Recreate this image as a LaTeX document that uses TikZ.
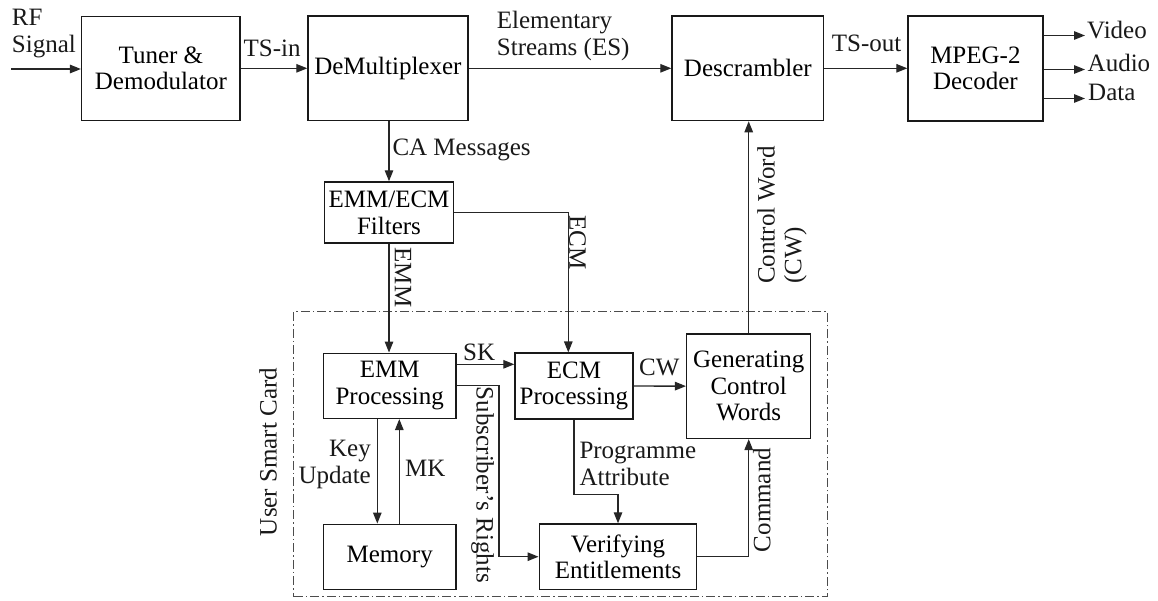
\documentclass[tikz,border=0pt]{standalone}
\usepackage{fontspec}
\setmainfont{Liberation Serif}
\usetikzlibrary{arrows.meta}
\begin{document}
\begin{tikzpicture}[x=1pt,y=-1pt,
  font=\fontsize{25}{26.7}\selectfont,
  blk/.style={draw=black!90, line width=1.5pt, align=center, inner sep=0pt},
  conn/.style={draw=black!85, line width=1.3pt},
  arr/.style={conn, -{Triangle[length=11pt,width=8.5pt]}},
  lbl/.style={inner sep=0pt, text=black!90},
  cardbox/.style={draw=black!70, line width=1.2pt,
    dash pattern=on 9pt off 3pt on 1.5pt off 3pt},
]
\useasboundingbox (0,0) rectangle (1158,600);

% --- receiver chain ---
\node[blk, minimum width=158.5pt, minimum height=104pt] (tuner) at (160.9,68.3) {Tuner \&\\Demodulator};
\node[blk, minimum width=159.7pt, minimum height=104.5pt] (demux) at (387.9,68.3) {DeMultiplexer};
\node[blk, minimum width=151.5pt, minimum height=104.5pt] (desc) at (747.8,68.3) {Descrambler};
\node[blk, minimum width=134.7pt, minimum height=105pt] (mpeg) at (975.4,68.3) {MPEG-2\\Decoder};
\node[blk, minimum width=129pt, minimum height=61pt] (filters) at (389,212.5) {EMM/ECM\\Filters};

% --- smart card ---
\node[cardbox, minimum width=533.7pt, minimum height=285pt, inner sep=0pt] (card) at (560.6,454.2) {};
\node[blk, minimum width=132.7pt, minimum height=65pt] (emmp) at (389.7,385.8) {EMM\\Processing};
\node[blk, minimum width=117.7pt, minimum height=65.7pt] (ecmp) at (573.9,386) {ECM\\Processing};
\node[blk, minimum width=124pt, minimum height=104.3pt] (gen) at (748.7,386.2) {Generating\\Control\\Words};
\node[blk, minimum width=132.7pt, minimum height=65pt] (mem) at (389.7,556.8) {Memory};
\node[blk, minimum width=157.4pt, minimum height=65.3pt] (ver) at (618,556.7) {Verifying\\Entitlements};

% --- labels (base anchor of a two-line label sits on its last line) ---
\node[lbl, align=left, anchor=base west] (rf) at (11.7,52) {RF\\Signal};
\node[lbl, anchor=base west] (tsin) at (243.5,56.5) {TS-in};
\node[lbl, align=left, anchor=base west] (es) at (496.7,55) {Elementary\\Streams (ES)};
\node[lbl, anchor=base west] (tsout) at (831.7,51.7) {TS-out};
\node[lbl, anchor=base west] (video) at (1087,38.3) {Video};
\node[lbl, anchor=base west] (audio) at (1087.5,71.7) {Audio};
\node[lbl, anchor=base west] (data) at (1088,100) {Data};
\node[lbl, anchor=base west] (camsg) at (392.3,155) {CA Messages};
\node[lbl, rotate=-90] (emmlbl) at (403,277.5) {EMM};
\node[lbl, rotate=-90] (ecmlbl) at (577.5,242.5) {ECM};
\node[lbl, rotate=90, align=left, anchor=north west] (cwlbl) at (757,284) {Control Word\\(CW)};
\node[lbl, rotate=90] (cardlbl) at (268,452) {User Smart Card};
\node[lbl, anchor=base west] (sk) at (463,360) {SK};
\node[lbl, anchor=base west] (cw) at (639,375) {CW};
\node[lbl, rotate=-90] (subs) at (482.5,485) {Subscriber's Rights};
\node[lbl, align=right, anchor=base east] (keyup) at (371,483.3) {Key\\Update};
\node[lbl, anchor=base west] (mk) at (405,476.7) {MK};
\node[lbl, align=left, anchor=base west] (prog) at (579.3,485) {Programme\\Attribute};
\node[lbl, rotate=90] (cmd) at (761.7,500) {Command};

% --- free ends of the output and input lines ---
\coordinate (rfin) at (11,69);
\coordinate (vidtip) at (1085,35.5);
\coordinate (audtip) at (1085,69.5);
\coordinate (dattip) at (1085,98.5);

% --- connectors ---
\draw[arr] (rfin) -- (rfin -| tuner.west);
\draw[arr] (tuner) -- (demux);
\draw[arr] (demux) -- (desc);
\draw[arr] (desc) -- (mpeg);
\draw[arr] (mpeg.east |- vidtip) -- (vidtip);
\draw[arr] (mpeg.east |- audtip) -- (audtip);
\draw[arr] (mpeg.east |- dattip) -- (dattip);

\draw[arr] (demux.south -| filters) -- (filters.north);
\draw[arr] (filters.south) -- (filters.south |- emmp.north);
\draw[arr] (filters.east) -| ([xshift=-5.6pt]ecmp.north);

\draw[arr] ([yshift=21.5pt]emmp.east) -- ([yshift=21.5pt]emmp.east -| ecmp.west);
\draw[arr] (emmp.east) -- ++(42.3,0) |- (ver.west);
\draw[arr] (ecmp) -- (gen);
\draw[arr] ([xshift=-12.4pt]emmp.south) -- ([xshift=-12.4pt]mem.north);
\draw[arr] ([xshift=9.6pt]mem.north) -- ([xshift=9.6pt]emmp.south);
\draw[arr] (ecmp.south) -- ++(0,75) -| (ver.north);
\draw[arr] (ver.east) -| (gen.south);
\draw[arr] (gen.north) -- (gen.north |- desc.south);
\end{tikzpicture}
\end{document}
